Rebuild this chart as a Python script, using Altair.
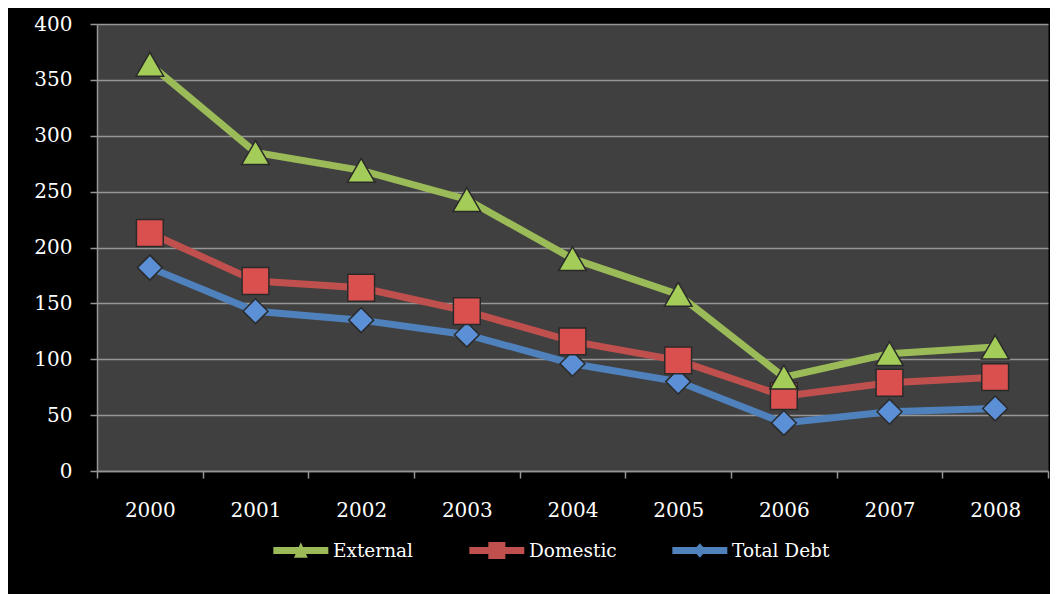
import altair as alt
import pandas as pd

years = ["2000", "2001", "2002", "2003", "2004", "2005", "2006", "2007", "2008"]
external = [364, 285, 269, 243, 190, 158, 84, 105, 111]
domestic = [213, 170, 164, 143, 116, 99, 67, 79, 84]
total_debt = [182, 143, 135, 122, 96, 80, 43, 53, 56]
series_names = ["External", "Domestic", "Total Debt"]
y_ticks = [0, 50, 100, 150, 200, 250, 300, 350, 400]

line_colors = ["#9bbb59", "#c0504d", "#4f81bd"]
marker_fills = ["#a3cd58", "#d9504e", "#5b8fd6"]
marker_shapes = ["triangle-up", "square", "diamond"]
marker_sizes = [760, 720, 620]
legend_paths = [
    "M-1,-0.38 L5,-0.38 L5,0.38 L-1,0.38 Z M2,-0.9 L2.75,0.8 L1.25,0.8 Z",
    "M-1,-0.38 L5,-0.38 L5,0.38 L-1,0.38 Z M1.07,-0.93 L2.93,-0.93 L2.93,0.93 L1.07,0.93 Z",
    "M-1,-0.38 L5,-0.38 L5,0.38 L-1,0.38 Z M2,-0.8 L2.7,0 L2,0.8 L1.3,0 Z",
]

rows = []
for name, vals in zip(series_names, [external, domestic, total_debt]):
    for yr, v in zip(years, vals):
        rows.append({"Year": yr, "Series": name, "Value": v})
df = pd.DataFrame(rows)

x_enc = alt.X(
    "Year:O",
    bandPosition=0.5,
    scale=alt.Scale(type="band", paddingInner=0, paddingOuter=0),
    axis=alt.Axis(title=None, labelAngle=0, tickBand="extent", grid=False,
                  tickSize=7, labelPadding=22),
)
y_enc = alt.Y(
    "Value:Q",
    scale=alt.Scale(domain=[0, 400], nice=False, zero=True),
    axis=alt.Axis(title=None, values=y_ticks, grid=True, tickSize=7, labelPadding=18),
)

base = alt.Chart(df)

line_layers = []
point_layers = []
for i in [2, 1, 0]:
    sub = base.transform_filter(alt.datum.Series == series_names[i])
    line_layers.append(
        sub.mark_line(strokeWidth=7, stroke=line_colors[i]).encode(x=x_enc, y=y_enc)
    )
    point_layers.append(
        sub.mark_point(shape=marker_shapes[i], filled=True, size=marker_sizes[i],
                       fill=marker_fills[i], stroke="#2a2a2a", strokeWidth=1.5, opacity=1)
        .encode(x=x_enc, y=y_enc)
    )

legend_cfg = dict(
    title=None, orient="none", legendX=176, legendY=517, direction="horizontal",
    columns=3, symbolSize=336, symbolStrokeWidth=0, symbolOpacity=1,
    labelOffset=41, columnPadding=55, labelFont="DejaVu Serif",
    labelFontSize=18.5, labelColor="white", padding=0,
)
legend_layer = base.mark_point(filled=True, opacity=0).encode(
    x=x_enc, y=y_enc,
    color=alt.Color("Series:N", scale=alt.Scale(domain=series_names, range=line_colors),
                    legend=alt.Legend(**legend_cfg)),
    shape=alt.Shape("Series:N", scale=alt.Scale(domain=series_names, range=legend_paths),
                    legend=alt.Legend(**legend_cfg)),
)

chart = (
    alt.layer(*line_layers, *point_layers, legend_layer)
    .properties(
        width=951, height=447, background="black",
        padding={"left": 89, "top": 16, "right": 2, "bottom": 123},
        autosize=alt.AutoSizeParams(type="none"),
    )
    .configure_view(fill="#404040", stroke="transparent")
    .configure_axis(
        domainColor="#969696", domainWidth=1.5, tickColor="#969696", tickWidth=1.5,
        gridColor="#969696", gridWidth=1.5, gridOpacity=1,
        labelColor="white", labelFont="DejaVu Serif", labelFontSize=20,
    )
)

chart.save("out.html", embed_options={"renderer": "svg", "actions": False})
